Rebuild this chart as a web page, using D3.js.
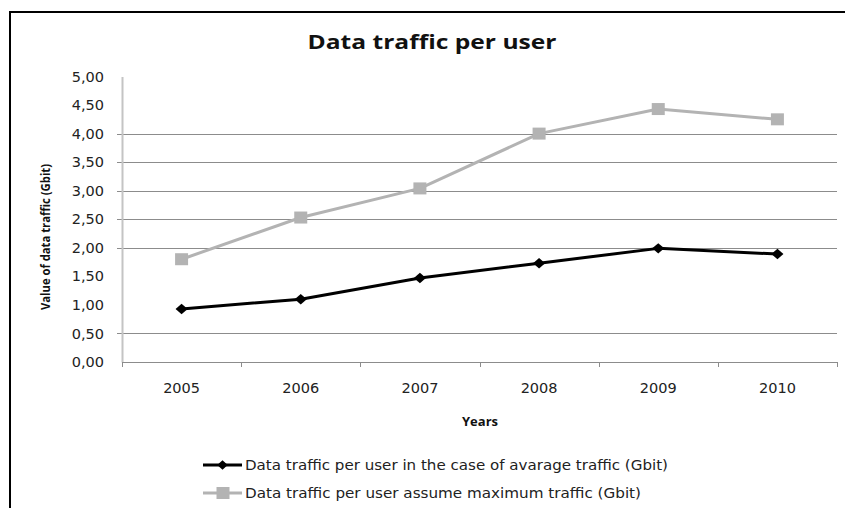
<!DOCTYPE html>
<html>
<head>
<meta charset="utf-8">
<script src="https://cdn.jsdelivr.net/npm/d3@7"></script>
<style>
  html, body { margin: 0; padding: 0; background: #fff; }
  svg { display: block; }
</style>
</head>
<body>
<svg id="chart" width="845" height="508"></svg>
<script>
// ---- data ----
const years = ["2005", "2006", "2007", "2008", "2009", "2010"];
const averageTraffic = [0.93, 1.10, 1.47, 1.73, 1.99, 1.89];
const maximumTraffic = [1.80, 2.53, 3.04, 4.00, 4.43, 4.25];
const yTicks = [0, 0.5, 1, 1.5, 2, 2.5, 3, 3.5, 4, 4.5, 5];
const gridValues = [0.5, 2, 2.5, 3, 3.5, 4];
const seriesNames = [
  "Data traffic per user in the case of avarage traffic (Gbit)",
  "Data traffic per user assume maximum traffic (Gbit)"
];
const chartTitle = "Data traffic per user";
const xTitle = "Years";
const yTitle = "Value of data traffic (Gbit)";

(function () {
// ---- layout ----
const svg = d3.select("#chart");
const plotL = 122, plotR = 837, plotT = 76.5, plotB = 362;

const x = d3.scaleBand().domain(years).range([plotL, plotR]).padding(0);
const y = d3.scaleLinear().domain([0, 5]).range([plotB, plotT]);
const fmt = d3.formatLocale({decimal: ",", thousands: ".", grouping: [3], currency: ["", "€"]}).format(".2f");

// outer frame
svg.append("path")
  .attr("d", "M845,12 H10 V508")
  .attr("fill", "none").attr("stroke", "#000").attr("stroke-width", 2);

// title
svg.append("text")
  .attr("x", 432).attr("y", 49)
  .attr("text-anchor", "middle")
  .attr("font-family", "'Open Sans', sans-serif")
  .attr("font-weight", "bold").attr("font-size", 20)
  .attr("textLength", 249).attr("lengthAdjust", "spacingAndGlyphs")
  .attr("fill", "#111")
  .text(chartTitle);

// gridlines
svg.append("g").selectAll("line").data(gridValues).join("line")
  .attr("x1", plotL - 5).attr("x2", plotR)
  .attr("y1", d => Math.round(y(d)) + 0.5).attr("y2", d => Math.round(y(d)) + 0.5)
  .attr("stroke", "#8c8c8c").attr("stroke-width", 1);

// y axis
const yAxis = svg.append("g")
  .attr("transform", `translate(${plotL},0)`)
  .call(d3.axisLeft(y).tickValues(yTicks).tickFormat(fmt).tickSize(0).tickPadding(18));
yAxis.select(".domain").attr("stroke", "#c4c4c4").attr("stroke-width", 2);
yAxis.selectAll("text")
  .attr("font-family", "'DejaVu Sans', sans-serif")
  .attr("font-size", 14.5).attr("fill", "#222");

// x axis
const xAxis = svg.append("g")
  .attr("transform", `translate(0,${plotB})`)
  .call(d3.axisBottom(x).tickSize(0).tickPadding(21));
xAxis.select(".domain").attr("stroke", "#8c8c8c").attr("stroke-width", 1);
xAxis.selectAll("text")
  .attr("font-family", "'DejaVu Sans', sans-serif")
  .attr("font-size", 14.5).attr("fill", "#222");
// category boundary ticks
const boundaries = years.map(d => x(d)).concat([x(years[years.length - 1]) + x.bandwidth()]);
svg.append("g").selectAll("line").data(boundaries).join("line")
  .attr("x1", d => Math.round(d) + 0.5).attr("x2", d => Math.round(d) + 0.5)
  .attr("y1", plotB).attr("y2", plotB + 5)
  .attr("stroke", "#8c8c8c").attr("stroke-width", 1);

// axis titles
svg.append("text")
  .attr("x", 480).attr("y", 426)
  .attr("text-anchor", "middle")
  .attr("font-family", "'Open Sans', sans-serif")
  .attr("font-weight", "bold").attr("font-size", 13)
  .attr("fill", "#111")
  .text(xTitle);

svg.append("text")
  .attr("transform", "translate(50,237) rotate(-90)")
  .attr("text-anchor", "middle")
  .attr("font-family", "'Open Sans', sans-serif")
  .attr("font-weight", "bold").attr("font-size", 12)
  .attr("textLength", 146).attr("lengthAdjust", "spacingAndGlyphs")
  .attr("fill", "#111")
  .text(yTitle);

// lines
const cx = d => x(d) + x.bandwidth() / 2;
const line = d3.line().x((d, i) => cx(years[i])).y(d => y(d));

const greyColor = "#b3b3b3";
svg.append("path").datum(maximumTraffic)
  .attr("d", line).attr("fill", "none")
  .attr("stroke", greyColor).attr("stroke-width", 3).attr("stroke-linejoin", "round");
svg.append("g").selectAll("rect").data(maximumTraffic).join("rect")
  .attr("x", (d, i) => cx(years[i]) - 6.5).attr("y", d => y(d) - 6)
  .attr("width", 13).attr("height", 12)
  .attr("fill", greyColor);

svg.append("path").datum(averageTraffic)
  .attr("d", line).attr("fill", "none")
  .attr("stroke", "#000").attr("stroke-width", 3).attr("stroke-linejoin", "round");
const diamond = d3.symbol().type(d3.symbolDiamond2).size(70);
svg.append("g").selectAll("path").data(averageTraffic).join("path")
  .attr("d", diamond)
  .attr("transform", (d, i) => `translate(${cx(years[i])},${y(d)}) scale(1.15,1)`)
  .attr("fill", "#000");

// legend
const legend = svg.append("g");
const legendY = [465, 493];
const legendLen = [423, 396];
legend.append("line").attr("x1", 203).attr("x2", 242).attr("y1", legendY[0]).attr("y2", legendY[0])
  .attr("stroke", "#000").attr("stroke-width", 3);
legend.append("path").attr("d", diamond)
  .attr("transform", `translate(222.5,${legendY[0]}) scale(1.0,0.9)`).attr("fill", "#000");
legend.append("line").attr("x1", 203).attr("x2", 242).attr("y1", legendY[1]).attr("y2", legendY[1])
  .attr("stroke", greyColor).attr("stroke-width", 3);
legend.append("rect").attr("x", 216.5).attr("y", legendY[1] - 6).attr("width", 13).attr("height", 12)
  .attr("fill", greyColor);

legend.selectAll("text").data(seriesNames).join("text")
  .attr("x", 245).attr("y", (d, i) => legendY[i])
  .attr("dy", "0.35em")
  .attr("font-family", "'DejaVu Sans', sans-serif")
  .attr("font-size", 13.5).attr("fill", "#222")
  .attr("textLength", (d, i) => legendLen[i]).attr("lengthAdjust", "spacingAndGlyphs")
  .text(d => d);
})();
</script>
</body>
</html>
